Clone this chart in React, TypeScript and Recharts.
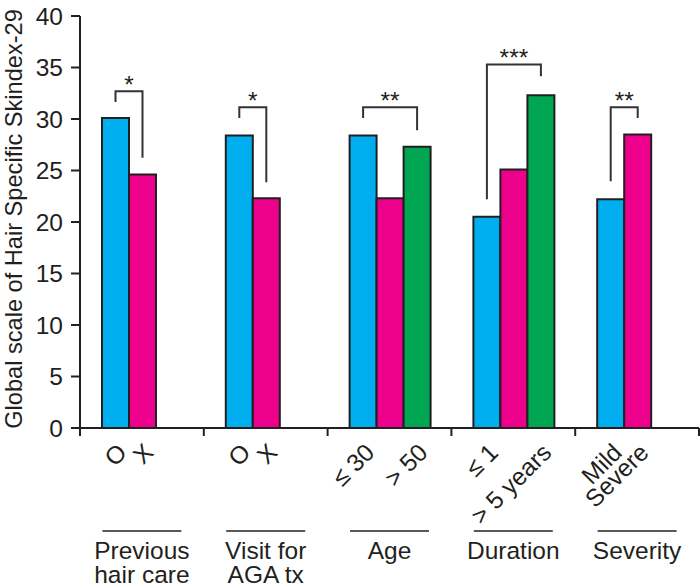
import React from 'react';
import { BarChart, Bar, XAxis, YAxis, LabelList } from 'recharts';

// ---- data ----
const groupLine1 = ['Previous', 'Visit for', 'Age', 'Duration', 'Severity'];
const groupLine2 = ['hair care', 'AGA tx', '', '', ''];
const blueValues = [30.1, 28.4, 28.4, 20.5, 22.2];
const magentaValues = [24.6, 22.3, 22.3, 25.1, 28.5];
const greenValues: (number | null)[] = [null, null, 27.3, 32.3, null];
const blueLabels = ['O', 'O', '\u2264 30', '\u2264 1', 'Mild'];
const magentaLabels = ['X', 'X', '', '', 'Severe'];
const greenLabels = ['', '', '> 50', '> 5 years', ''];
const yTicks = [0, 5, 10, 15, 20, 25, 30, 35, 40];
const yLabel = 'Global scale of Hair Specific Skindex-29';

// significance brackets (start at the blue bar, span = number of bars to the right)
const bracketSpan = [1, 1, 2, 2, 1];
const bracketTop = [32.7, 31.15, 31.15, 35.3, 31.15];
const bracketLeftEnd = [31.65, 30.1, 30.1, 22.2, 23.95];
const bracketRightEnd = [26.25, 23.85, 28.9, 34.15, 30.1];
const bracketStars = ['*', '*', '**', '***', '**'];

const data = groupLine1.map((g, i) => ({
  name: g,
  blue: blueValues[i],
  magenta: magentaValues[i],
  green: greenValues[i],
}));

// ---- layout / style ----
const W = 700;
const H = 588;
const MARGIN = { top: 16, right: 1, bottom: 0, left: 0 };
const YAXIS_W = 80;
const XAXIS_H = 160;
const CAT_GAP = 22;
const BAND = (W - MARGIN.left - MARGIN.right - YAXIS_W) / data.length;
const BAR_W = (BAND - 2 * CAT_GAP) / 3;
const INK = '#231F20';
const FONT = '"Liberation Sans", Arial, Helvetica, sans-serif';
const FS = 24.5;

const GroupTick = (props: any) => {
  const { x, y, payload } = props;
  const i = payload && typeof payload.index === 'number' ? payload.index : props.index;
  const subs = [blueLabels[i], magentaLabels[i], greenLabels[i]];
  return (
    <g>
      <line x1={x - BAND / 2} x2={x - BAND / 2} y1={y} y2={y + 8} stroke={INK} strokeWidth={2} />
      {i === data.length - 1 && (
        <line x1={x + BAND / 2} x2={x + BAND / 2} y1={y} y2={y + 8} stroke={INK} strokeWidth={2} />
      )}
      {subs.map((s, j) =>
        s ? (
          <text
            key={j}
            transform={`translate(${x + (j - 1) * BAR_W + 13},${y + 26}) rotate(-45)`}
            textAnchor="end"
            fill={INK}
            fontSize={FS}
            fontFamily={FONT}
          >
            {s}
          </text>
        ) : null
      )}
      <line x1={x - 39.5} x2={x + 39.5} y1={y + 103} y2={y + 103} stroke={INK} strokeWidth={1.6} />
      <text x={x} y={y + 131} textAnchor="middle" fill={INK} fontSize={FS} fontFamily={FONT}>
        <tspan x={x}>{groupLine1[i]}</tspan>
        {groupLine2[i] ? (
          <tspan x={x} dy={23.5}>
            {groupLine2[i]}
          </tspan>
        ) : null}
      </text>
    </g>
  );
};

const Bracket = (props: any) => {
  const vb = props.viewBox || props;
  const { x, y, width, height } = vb;
  const i = props.index;
  if (i == null || x == null) return null;
  const v = blueValues[i];
  const k = height / v;
  const base = y + height;
  const toPx = (d: number) => base - d * k;
  const x1 = x + width / 2;
  const x2 = x1 + bracketSpan[i] * width;
  const top = toPx(bracketTop[i]);
  return (
    <g>
      <polyline
        points={`${x1},${toPx(bracketLeftEnd[i])} ${x1},${top} ${x2},${top} ${x2},${toPx(bracketRightEnd[i])}`}
        fill="none"
        stroke="#333"
        strokeWidth={2}
      />
      <text x={(x1 + x2) / 2} y={top + 2} textAnchor="middle" fill={INK} fontSize={FS} fontFamily={FONT}>
        {bracketStars[i]}
      </text>
    </g>
  );
};

const YLabel = (props: any) => {
  const vb = props.viewBox || {};
  const cy = (vb.y ?? 16) + (vb.height ?? 412) / 2 - 3;
  return (
    <text
      transform={`translate(21.5,${cy}) rotate(-90)`}
      textAnchor="middle"
      fill={INK}
      fontSize={23.6}
      fontFamily={FONT}
    >
      {yLabel}
    </text>
  );
};

export default function App() {
  return (
    <div style={{ position: 'absolute', left: 0, top: 0, background: '#fff' }}>
      <BarChart width={W} height={H} data={data} margin={MARGIN} barGap={0} barCategoryGap={CAT_GAP}>
        <XAxis
          dataKey="name"
          height={XAXIS_H}
          interval={0}
          tickSize={0}
          tickMargin={0}
          tickLine={false}
          axisLine={{ stroke: INK, strokeWidth: 2 }}
          tick={<GroupTick />}
        />
        <YAxis
          domain={[0, 40]}
          ticks={yTicks}
          interval={0}
          width={YAXIS_W}
          tickSize={9}
          tickMargin={8}
          axisLine={{ stroke: INK, strokeWidth: 2 }}
          tickLine={{ stroke: INK, strokeWidth: 2 }}
          tick={{ fill: INK, fontSize: FS, fontFamily: FONT }}
          label={{ content: YLabel }}
        />
        <Bar dataKey="blue" fill="#00AEEF" stroke={INK} strokeWidth={2} isAnimationActive={false}>
          <LabelList dataKey="blue" content={Bracket} />
        </Bar>
        <Bar dataKey="magenta" fill="#EC008C" stroke={INK} strokeWidth={2} isAnimationActive={false} />
        <Bar dataKey="green" fill="#00A651" stroke={INK} strokeWidth={2} isAnimationActive={false} />
      </BarChart>
    </div>
  );
}
